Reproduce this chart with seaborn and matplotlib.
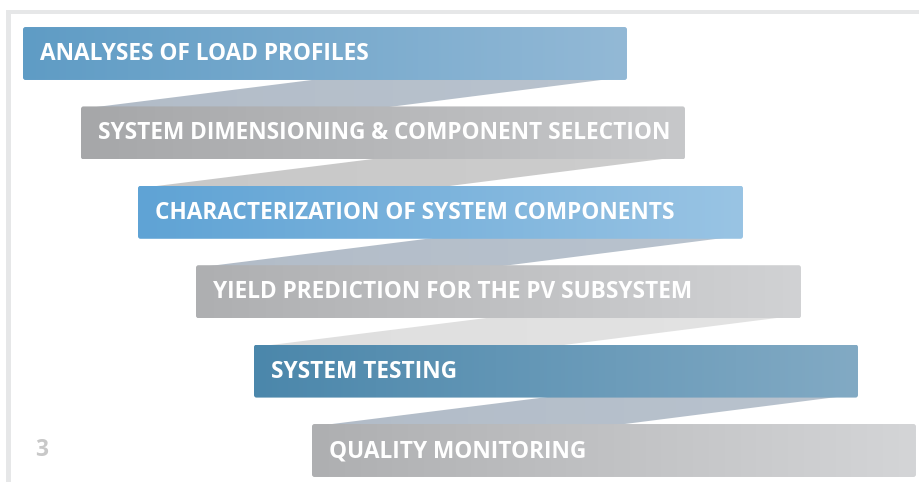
import numpy as np
import matplotlib
matplotlib.use("Agg")
import matplotlib.pyplot as plt
import seaborn as sns
import pandas as pd
from matplotlib.patches import FancyBboxPatch, Polygon
from matplotlib.colors import LinearSegmentedColormap

# ---- data ----
steps = [
    "ANALYSES OF LOAD PROFILES",
    "SYSTEM DIMENSIONING & COMPONENT SELECTION",
    "CHARACTERIZATION OF SYSTEM COMPONENTS",
    "YIELD PREDICTION FOR THE PV SUBSYSTEM",
    "SYSTEM TESTING",
    "QUALITY MONITORING",
]
step_start = [23, 81, 138, 196, 254, 312]
step_length = [604, 604, 605, 605, 604, 604]
left_colors = ["#5f9cc5", "#a6a7a9", "#5fa3d5", "#aeafb1", "#4b87ab", "#aeafb1"]
right_colors = ["#93b9d6", "#c7c8ca", "#99c4e4", "#d1d2d4", "#82aac4", "#d4d5d7"]
ribbon_left = ["#b2bcc8", "#c8c8c8", "#b2bcc8", "#dfdfdf", "#b2bcc8"]
ribbon_right = ["#b9c3ce", "#cdcdcd", "#b9c3ce", "#e3e3e3", "#b9c3ce"]
page_number = "3"

# ---- setup ----
sns.set_theme(style="white")
plt.rcParams["font.family"] = ["Open Sans", "DejaVu Sans"]

W, H = 920, 482
fig = plt.figure(figsize=(W / 100, H / 100), dpi=100)
ax = fig.add_axes([0, 0, 1, 1])

df = pd.DataFrame({
    "step": steps,
    "end": [s + l for s, l in zip(step_start, step_length)],
})
BAR_W = 0.667
sns.barplot(data=df, y="step", x="end", orient="h", ax=ax, width=BAR_W,
            color="#ffffff", linewidth=0, saturation=1)

PITCH = 79.4          # pixels per category unit
TOP0 = 53.5           # pixel centre of first bar
ylim_top = -TOP0 / PITCH
ylim_bot = (H - TOP0) / PITCH
FS = 16.3

bars = list(ax.patches)
for p, s, l in zip(bars, step_start, step_length):
    p.set_x(s)
    p.set_width(l)
    p.set_visible(False)

# ribbons between consecutive bars
for i in range(len(bars) - 1):
    b0, b1 = bars[i], bars[i + 1]
    ytop = b0.get_y() + b0.get_height()
    ybot = b1.get_y()
    x0s = b0.get_x()
    x0e = b0.get_x() + b0.get_width()
    x1s = b1.get_x()
    ext = 2 / PITCH
    poly = [(x0s + 305, ytop - ext), (x0e - 10, ytop - ext),
            (x1s + 297, ybot + ext), (x1s + 4, ybot + ext)]
    pg = Polygon(poly, closed=True, facecolor="none", edgecolor="none", zorder=1)
    ax.add_patch(pg)
    cm = LinearSegmentedColormap.from_list("r%d" % i, [ribbon_left[i], ribbon_right[i]])
    im = ax.imshow(np.linspace(0, 1, 256).reshape(1, -1), cmap=cm, aspect="auto",
                   extent=(x1s, x0e, ybot + ext, ytop - ext), zorder=1,
                   interpolation="bilinear")
    im.set_clip_path(pg)

# gradient bars
for i, p in enumerate(bars):
    x, y, w, h = p.get_x(), p.get_y(), p.get_width(), p.get_height()
    fb = FancyBboxPatch((x, y), w, h,
                        boxstyle="round,pad=0,rounding_size=2.5",
                        mutation_aspect=1 / PITCH,
                        facecolor="none", edgecolor="none", zorder=2)
    ax.add_patch(fb)
    cm = LinearSegmentedColormap.from_list("b%d" % i, [left_colors[i], right_colors[i]])
    im = ax.imshow(np.linspace(0, 1, 256).reshape(1, -1), cmap=cm, aspect="auto",
                   extent=(x, x + w, y + h, y), zorder=2, interpolation="bilinear")
    im.set_clip_path(fb)
    cap_off = 6.6 / PITCH
    ax.text(x + 17, y + h / 2 + cap_off, steps[i], color="white",
            fontsize=FS, fontweight="bold", va="baseline", ha="left", zorder=3)

# page number
ax.text(35, 456.5 / PITCH + ylim_top, page_number, color="#c8c8c8",
        fontsize=FS, fontweight="bold", va="baseline", ha="left", zorder=3)

# frame lines (top and left)
frame_c = "#e6e7e8"
ax.add_patch(plt.Rectangle((6, ylim_top + 10 / PITCH), W - 6, 4.5 / PITCH,
                           facecolor=frame_c, edgecolor="none", zorder=0))
ax.add_patch(plt.Rectangle((6, ylim_top + 10 / PITCH), 5, (H - 10) / PITCH,
                           facecolor=frame_c, edgecolor="none", zorder=0))

ax.set_xlim(0, W)
ax.set_ylim(ylim_bot, ylim_top)
ax.axis("off")

fig.savefig("out.png", dpi=100)
